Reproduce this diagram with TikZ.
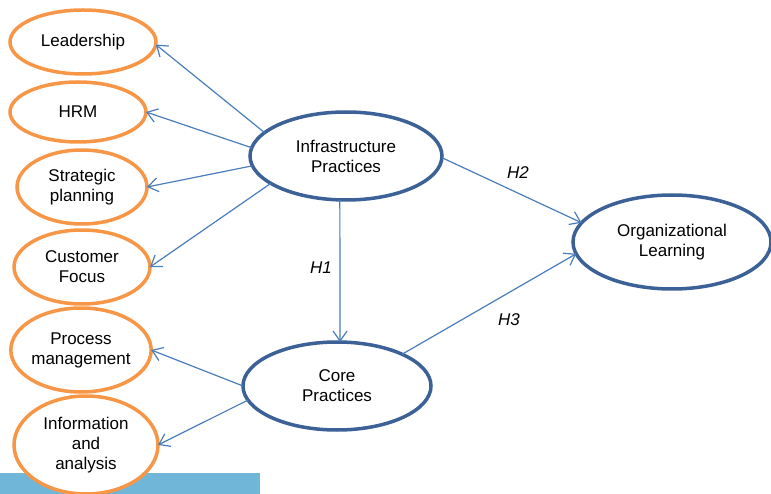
\documentclass[tikz,border=0pt]{standalone}
\usepackage{fontspec}
\setmainfont{Liberation Sans}
\usetikzlibrary{shapes.geometric,arrows.meta}
\definecolor{obrd}{HTML}{F79646}
\definecolor{bbrd}{HTML}{3C6196}
\definecolor{arr}{HTML}{4A7EBB}
\definecolor{bar}{HTML}{6FB6D9}
\begin{document}
\begin{tikzpicture}[x=1pt,y=-1pt,
  txt/.style={font=\fontsize{17}{20}\selectfont, align=center},
  oell/.style={ellipse, draw=obrd, line width=3.5pt, fill=white, inner sep=0pt, outer sep=0pt, txt},
  bell/.style={ellipse, draw=bbrd, line width=3.5pt, fill=white, inner sep=0pt, outer sep=0pt, txt},
  conn/.style={draw=arr, line width=1.2pt, -{Straight Barb[length=10pt,width=14pt]}},
  hlab/.style={font=\fontsize{17}{20}\selectfont\itshape}]
\useasboundingbox (0,0) rectangle (771,494);
\fill[bar] (0,473) rectangle (260,494);
\node[oell, minimum width=146pt, minimum height=64pt] (lead) at (83,42) {Leadership};
\node[oell, minimum width=136pt, minimum height=60pt] (hrm) at (78,112) {HRM};
\node[oell, minimum width=130pt, minimum height=74pt] (strat) at (82,187) {Strategic\\planning};
\node[oell, minimum width=136pt, minimum height=74pt] (cust) at (82,267) {Customer\\Focus};
\node[oell, minimum width=138pt, minimum height=84pt] (proc) at (81,350) {Process\\management};
\node[oell, minimum width=144pt, minimum height=98pt] (info) at (86,445) {Information\\and\\analysis};
\node[bell, minimum width=192pt, minimum height=88pt] (infra) at (346,156) {Infrastructure\\Practices};
\node[bell, minimum width=188pt, minimum height=88pt] (core) at (337,386) {Core\\Practices};
\node[bell, minimum width=198pt, minimum height=94pt] (org) at (672,242) {Organizational\\Learning};
\draw[conn] (infra.164) -- (lead.358);
\draw[conn] (infra.175) -- (hrm.east);
\draw[conn] (infra.186) -- (strat.east);
\draw[conn] (infra.200) -- (cust.east);
\draw[conn] (infra.262) -- (core.86);
\draw[conn] (infra.359) -- (org.168);
\draw[conn] (core.26) -- (org.187);
\draw[conn] (core.180) -- (proc.east);
\draw[conn] (core.189) -- (info.east);
\node[hlab] (h1) at (321,268) {H1};
\node[hlab] (h2) at (518,173) {H2};
\node[hlab] (h3) at (509,320) {H3};
\end{tikzpicture}
\end{document}
